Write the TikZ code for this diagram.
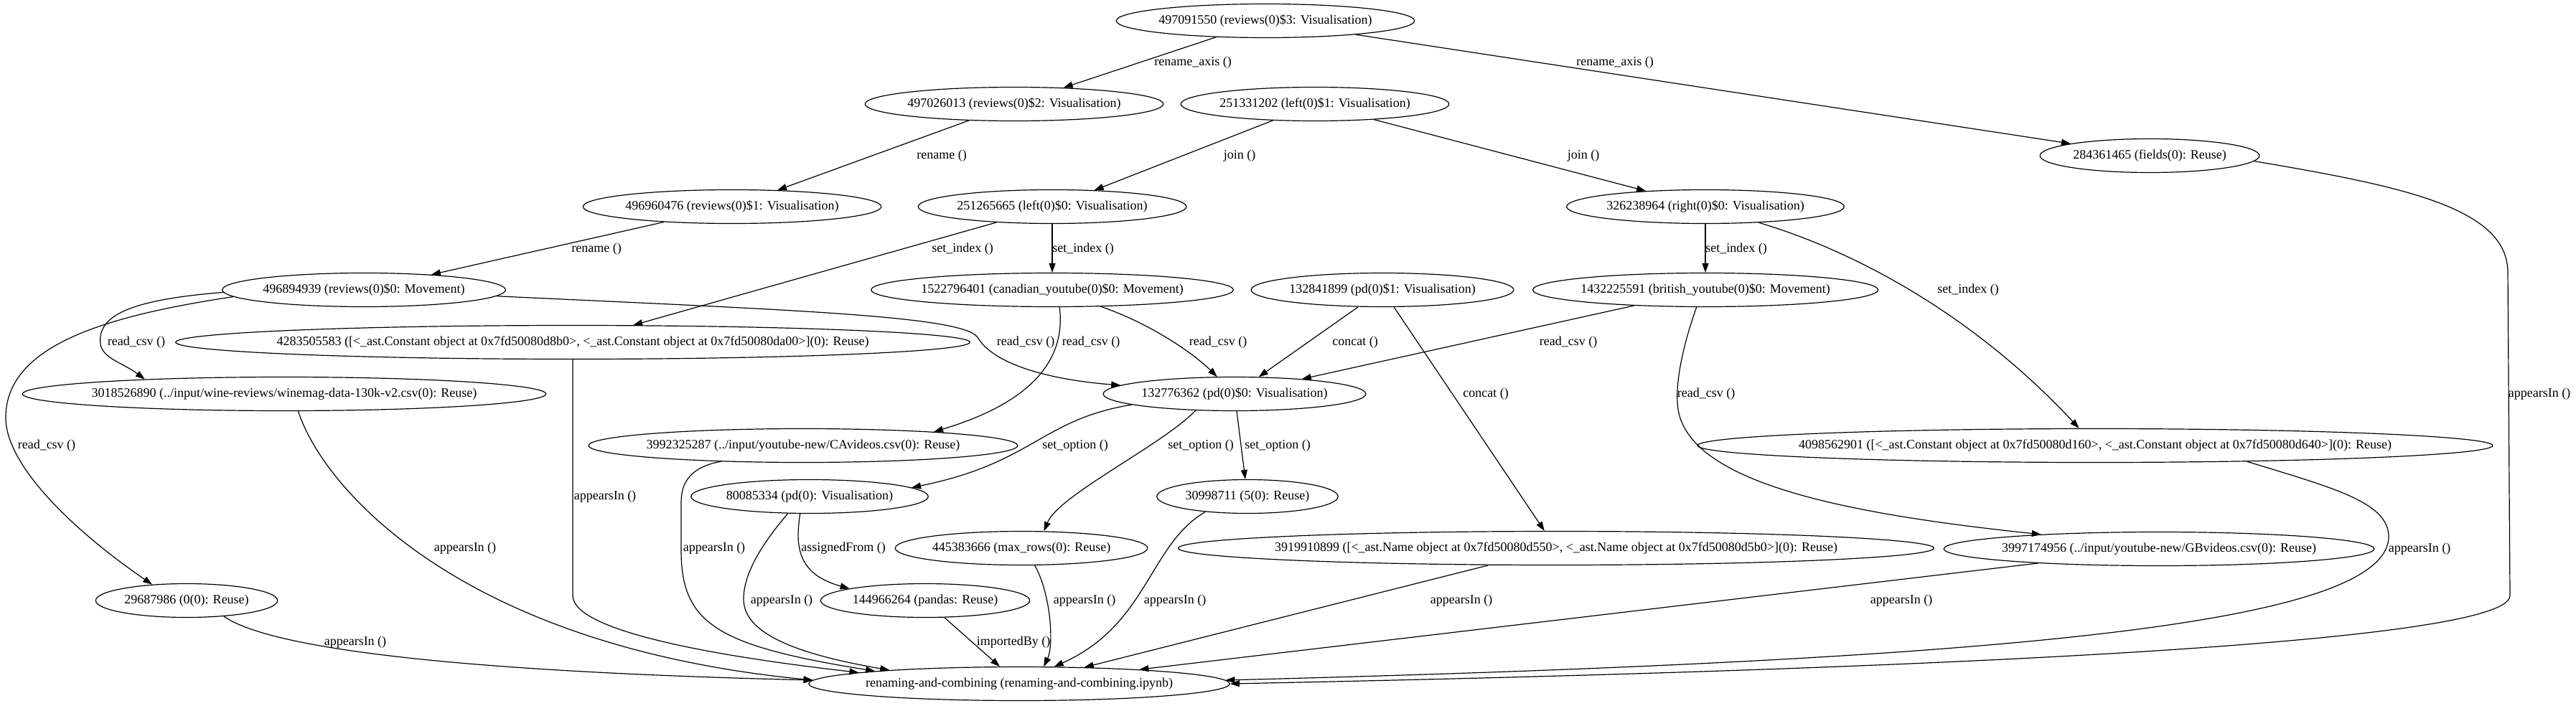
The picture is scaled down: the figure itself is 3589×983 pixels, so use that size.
\documentclass[tikz,border=0pt]{standalone}
\usepackage{fontspec}
\setmainfont{Liberation Serif}
\usetikzlibrary{shapes.geometric,arrows.meta}

\newcommand\gvfont{\fontsize{18}{21}\selectfont}
\newcommand\ovaltext[1]{\sbox0{#1}\makebox[\dimexpr0.926\wd0+18.5pt\relax]{\usebox0}}

\begin{document}
\begin{tikzpicture}[x=1pt, y=-1pt,
  oval/.style={ellipse, draw, line width=1.2pt, inner xsep=0pt, inner ysep=0pt,
    minimum height=47pt, font=\gvfont},
  lbl/.style={inner sep=0pt, font=\gvfont},
  gvedge/.style={line width=1.2pt, -{Triangle[length=13pt,width=9pt]}}]

% === Background ===
\fill[white] (0,0) rectangle (3589,983);

% === Nodes ===
\node[oval] (rev3) at (1763,29) {\ovaltext{497091550 (reviews(0)\$3: Visualisation)}};
\node[oval] (rev2) at (1413,145) {\ovaltext{497026013 (reviews(0)\$2: Visualisation)}};
\node[oval] (left1) at (1832,145) {\ovaltext{251331202 (left(0)\$1: Visualisation)}};
\node[oval] (fields) at (2995,217) {\ovaltext{284361465 (fields(0): Reuse)}};
\node[oval] (rev1) at (1020,288) {\ovaltext{496960476 (reviews(0)\$1: Visualisation)}};
\node[oval] (left0) at (1466,288) {\ovaltext{251265665 (left(0)\$0: Visualisation)}};
\node[oval] (right0) at (2376,288) {\ovaltext{326238964 (right(0)\$0: Visualisation)}};
\node[oval] (rev0) at (507,404) {\ovaltext{496894939 (reviews(0)\$0: Movement)}};
\node[oval] (canyt) at (1466,404) {\ovaltext{1522796401 (canadian\_youtube(0)\$0: Movement)}};
\node[oval] (pd1) at (1926,404) {\ovaltext{132841899 (pd(0)\$1: Visualisation)}};
\node[oval] (brityt) at (2376,404) {\ovaltext{1432225591 (british\_youtube(0)\$0: Movement)}};
\node[oval] (consta) at (798,477) {\ovaltext{4283505583 ([<\_ast.Constant object at 0x7fd50080d8b0>, <\_ast.Constant object at 0x7fd50080da00>](0): Reuse)}};
\node[oval] (wine) at (396,549) {\ovaltext{3018526890 (../input/wine-reviews/winemag-data-130k-v2.csv(0): Reuse)}};
\node[oval] (pd0) at (1720,549) {\ovaltext{132776362 (pd(0)\$0: Visualisation)}};
\node[oval] (cavid) at (1119,621) {\ovaltext{3992325287 (../input/youtube-new/CAvideos.csv(0): Reuse)}};
\node[oval] (constb) at (2919,621) {\ovaltext{4098562901 ([<\_ast.Constant object at 0x7fd50080d160>, <\_ast.Constant object at 0x7fd50080d640>](0): Reuse)}};
\node[oval] (pdv) at (1128,692) {\ovaltext{80085334 (pd(0): Visualisation)}};
\node[oval] (five) at (1738,692) {\ovaltext{30998711 (5(0): Reuse)}};
\node[oval] (maxrows) at (1423,764) {\ovaltext{445383666 (max\_rows(0): Reuse)}};
\node[oval] (names) at (2168,764) {\ovaltext{3919910899 ([<\_ast.Name object at 0x7fd50080d550>, <\_ast.Name object at 0x7fd50080d5b0>](0): Reuse)}};
\node[oval] (gbvid) at (3008,765) {\ovaltext{3997174956 (../input/youtube-new/GBvideos.csv(0): Reuse)}};
\node[oval] (zero) at (260,837) {\ovaltext{29687986 (0(0): Reuse)}};
\node[oval] (pandas) at (1289,837) {\ovaltext{144966264 (pandas: Reuse)}};
\node[oval] (nb) at (1420,953) {\ovaltext{renaming-and-combining (renaming-and-combining.ipynb)}};

% === Edge labels ===
\foreach \x/\y/\t [count=\i] in {
  1662/87/rename\_axis (), 2250/87/rename\_axis (),
  1312/217/rename (), 1727/217/join (), 2206/217/join (),
  831/347/rename (), 1341/347/set\_index (), 1509/347/set\_index (),
  2419/347/set\_index (), 2742/404/set\_index (),
  190/477/read\_csv (), 1429/477/read\_csv (), 1520/477/read\_csv (),
  1697/477/read\_csv (), 1888/477/concat (), 2185/477/read\_csv (),
  2070/549/concat (), 2377/549/read\_csv (), 3538/549/appearsIn (),
  65/621/read\_csv (), 1498/621/set\_option (), 1673/621/set\_option (),
  1780/621/set\_option (), 843/692/appearsIn (),
  648/764/appearsIn (), 995/764/appearsIn (), 1175/764/assignedFrom (),
  3371/765/appearsIn (),
  1089/837/appearsIn (), 1511/837/appearsIn (), 1637/837/appearsIn (),
  2036/837/appearsIn (), 2649/837/appearsIn (),
  495/895/appearsIn (), 1412/895/importedBy ()
}{
  \node[lbl] (lab\i) at (\x,\y) {\t};
}

% === rename / join ===
\draw[gvedge] (rev3) -- (rev2);
\draw[gvedge] (rev3) -- (fields);
\draw[gvedge] (rev2) -- (rev1);
\draw[gvedge] (rev1) -- (rev0);
\draw[gvedge] (left1) -- (left0);
\draw[gvedge] (left1) -- (right0);

% === set_index ===
\draw[gvedge] (left0) -- (consta);
\draw[gvedge] (left0) -- (canyt);
\draw[gvedge] (right0) -- (brityt);
\draw[gvedge] (right0) .. controls (2600,355) and (2760,450) .. (constb);

% === read_csv / concat ===
\draw[gvedge] (rev0) .. controls (1100,432) and (1340,440) .. (1362,470)
  .. controls (1385,510) and (1470,530) .. (pd0);
\draw[gvedge] (rev0.181) .. controls (180,418) and (135,440) .. (140,480)
  .. controls (144,500) and (170,505) .. (wine.174);
\draw[gvedge] (rev0.183) .. controls (150,440) and (10,480) .. (8,580)
  .. controls (6,650) and (110,745) .. (zero.155);
\draw[gvedge] (canyt.293) .. controls (1485,500) and (1440,560) .. (cavid.6);
\draw[gvedge] (canyt) .. controls (1600,450) and (1660,490) .. (pd0);
\draw[gvedge] (pd1) -- (pd0);
\draw[gvedge] (pd1) -- (names);
\draw[gvedge] (brityt) -- (pd0);
\draw[gvedge] (brityt.243) .. controls (2345,480) and (2335,530) .. (2337,560)
  .. controls (2340,670) and (2560,715) .. (gbvid.173);

% === set_option / assignedFrom ===
\draw[gvedge] (pd0.186) .. controls (1450,585) and (1440,645) .. (pdv.5);
\draw[gvedge] (pd0.203) .. controls (1620,620) and (1475,690) .. (maxrows.37);
\draw[gvedge] (pd0) -- (five);
\draw[gvedge] (pdv.241) .. controls (1108,760) and (1110,800) .. (pandas.171);

% === appearsIn / importedBy ===
\draw[gvedge] (pdv.218) .. controls (1060,760) and (1036,800) .. (1036,835)
  .. controls (1036,880) and (1100,910) .. (nb.174);
\draw[gvedge] (cavid.191) .. controls (965,650) and (949,670) .. (949,700) -- (949,767)
  .. controls (949,870) and (1000,900) .. (nb.175);
\draw[gvedge] (consta.south) -- (798,830) .. controls (798,880) and (1000,915) .. (nb.176);
\draw[gvedge] (wine.309) .. controls (450,680) and (640,900) .. (nb.179);
\draw[gvedge] (zero.337) .. controls (370,900) and (600,935) .. (nb.179);
\draw[gvedge] (pandas) -- (nb);
\draw[gvedge] (maxrows.308) .. controls (1465,830) and (1468,900) .. (nb.35);
\draw[gvedge] (five.200) .. controls (1600,760) and (1600,870) .. (nb.26);
\draw[gvedge] (names) -- (nb);
\draw[gvedge] (gbvid) -- (nb);
\draw[gvedge] (constb.354) .. controls (3250,680) and (3330,700) .. (3328,750)
  .. controls (3320,870) and (2800,920) .. (nb.1);
\draw[gvedge] (fields.357) .. controls (3350,260) and (3494,290) .. (3494,380) -- (3497,830)
  .. controls (3497,900) and (2600,935) .. (nb.east);

\end{tikzpicture}
\end{document}
